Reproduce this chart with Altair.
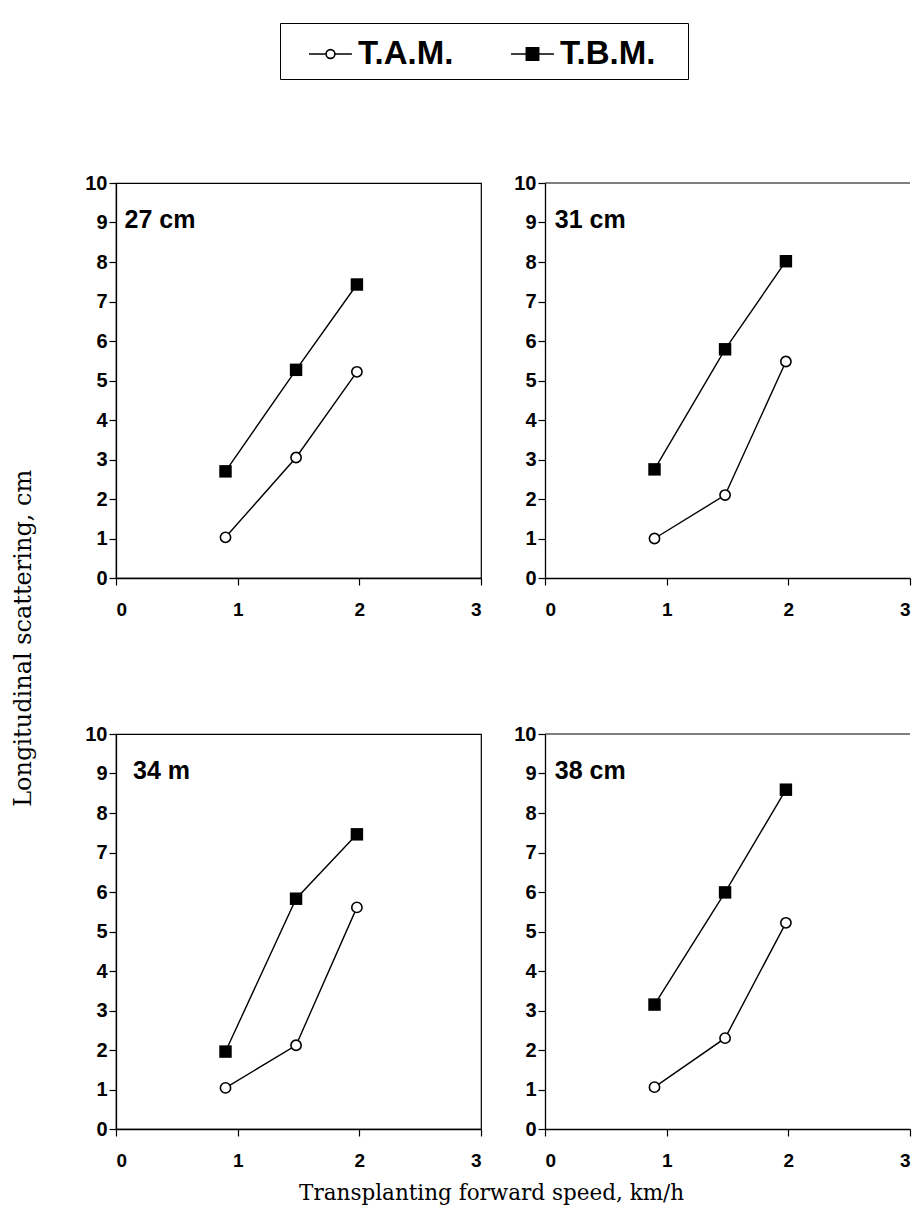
import altair as alt
import pandas as pd

speeds = [0.9, 1.48, 1.98]
panels = ["27 cm", "31 cm", "34 m", "38 cm"]
series = ["T.A.M.", "T.B.M."]
tam_values = {
    "27 cm": [1.03, 3.05, 5.22],
    "31 cm": [1.0, 2.1, 5.48],
    "34 m": [1.04, 2.12, 5.61],
    "38 cm": [1.06, 2.3, 5.22],
}
tbm_values = {
    "27 cm": [2.7, 5.27, 7.43],
    "31 cm": [2.75, 5.79, 8.02],
    "34 m": [1.96, 5.83, 7.46],
    "38 cm": [3.15, 5.99, 8.59],
}
label_x = [0.07, 0.08, 0.14, 0.08]
label_y = [8.85, 8.85, 8.85, 8.85]
x_ticks = [0, 1, 2, 3]
y_ticks = list(range(0, 11))

rows = []
for p in panels:
    for s, vals in ((series[0], tam_values[p]), (series[1], tbm_values[p])):
        for sp, v in zip(speeds, vals):
            rows.append({"panel": p, "series": s, "speed": sp, "value": v})
df = pd.DataFrame(rows)

# legend symbols: line with hollow circle / line with filled square
path_tam = ("M-0.09,0H0.686M1.086,0H1.86"
            "M0.686,0A0.2,0.2 0 1,1 1.086,0A0.2,0.2 0 1,1 0.686,0Z")
path_tbm = "M-0.09,0H1.86M0.606,-0.28H1.166V0.28H0.606Z"

W, H = 365, 395
FONT = "Liberation Sans"
SERIF = "DejaVu Serif"

legend_def = alt.Legend(
    title=None,
    labelExpr="datum.label == 'T.B.M.' ? datum.label + '\u2800' : datum.label",
)

xs = alt.Scale(domain=[0, 3], nice=False, zero=False)
ys = alt.Scale(domain=[0, 10], nice=False)
X = alt.X("speed:Q", scale=xs, title=None,
          axis=alt.Axis(values=x_ticks, labelPadding=15, format="d",
                        labelFontSize=19))
Y = alt.Y("value:Q", scale=ys, title=None,
          axis=alt.Axis(values=y_ticks, labelPadding=2, format="d",
                        labelFontSize=20))


def panel(i, boxed, with_legend):
    name = panels[i]
    d = df[df.panel == name]
    base = alt.Chart(d)
    lines = base.mark_line(color="black", strokeWidth=1.4).encode(
        x=X, y=Y, detail="series:N")
    circ = base.transform_filter(alt.datum.series == series[0]).mark_point(
        shape="circle", filled=True, fill="white", stroke="black",
        strokeWidth=1.6, size=105, opacity=1, fillOpacity=1).encode(x=X, y=Y)
    sq = base.transform_filter(alt.datum.series == series[1]).mark_square(
        color="black", size=155, opacity=1).encode(x=X, y=Y)
    lab = alt.Chart(pd.DataFrame({"label": [name], "speed": [label_x[i]],
                                  "value": [label_y[i]]})).mark_text(
        align="left", baseline="alphabetic", font=FONT, fontWeight="bold",
        fontSize=25, color="black").encode(x=X, y=Y, text="label:N")
    layers = [lines, circ, sq, lab]
    if not boxed:
        top = alt.Chart(pd.DataFrame({"value": [10]})).mark_rule(
            color="black", strokeWidth=1.2).encode(y=Y)
        layers.append(top)
    if with_legend:
        leg = base.transform_filter("false").mark_point(
            filled=True, strokeWidth=1.6, opacity=1).encode(
            x=X, y=Y,
            shape=alt.Shape("series:N", legend=legend_def,
                            scale=alt.Scale(domain=series, range=[path_tam, path_tbm])),
            fill=alt.Fill("series:N", legend=legend_def,
                          scale=alt.Scale(domain=series, range=["white", "black"])),
            stroke=alt.Stroke("series:N", legend=legend_def,
                              scale=alt.Scale(domain=series, range=["black", "black"])))
        layers.append(leg)
    ch = alt.layer(*layers).properties(width=W, height=H)
    if boxed:
        ch = ch.properties(view=alt.ViewBackground(stroke="black", strokeWidth=1.2))
    else:
        ch = ch.properties(view=alt.ViewBackground(stroke="transparent"))
    return ch


row1 = alt.hconcat(panel(0, True, True), panel(1, False, False), spacing=30)
row2 = alt.hconcat(panel(2, True, False), panel(3, False, False), spacing=30)
grid = alt.vconcat(row1, row2, spacing=103,
                   title=alt.TitleParams("Transplanting forward speed, km/h",
                                         orient="bottom", anchor="middle",
                                         font=SERIF, fontSize=21.5,
                                         fontWeight="normal", color="black",
                                         offset=12, dx=-6))
chart = alt.vconcat(grid,
                    title=alt.TitleParams("Longitudinal scattering, cm",
                                          orient="left", anchor="middle",
                                          font=SERIF, fontSize=24,
                                          fontWeight="normal", color="black",
                                          offset=48, dx=-25)).properties(
    padding={"left": 4, "top": 14, "right": 0, "bottom": 0})

chart = chart.configure_axis(
    grid=False, domainColor="black", domainWidth=1.3, tickColor="black",
    tickSize=7, tickWidth=1.2, labelFont=FONT, labelFontWeight="bold",
    labelFontSize=19, labelColor="black",
).configure_legend(
    orient="none", legendX=164, legendY=-160, direction="horizontal",
    columns=2, padding=8, columnPadding=36, labelOffset=24,
    symbolSize=1936, strokeColor="black", fillColor="white",
    labelFont=FONT, labelFontWeight="bold", labelFontSize=33, labelColor="black",
    symbolStrokeWidth=1.6, symbolOpacity=1,
).configure_view(stroke="black")

chart.save("out.html", embed_options={"renderer": "svg", "actions": False})
